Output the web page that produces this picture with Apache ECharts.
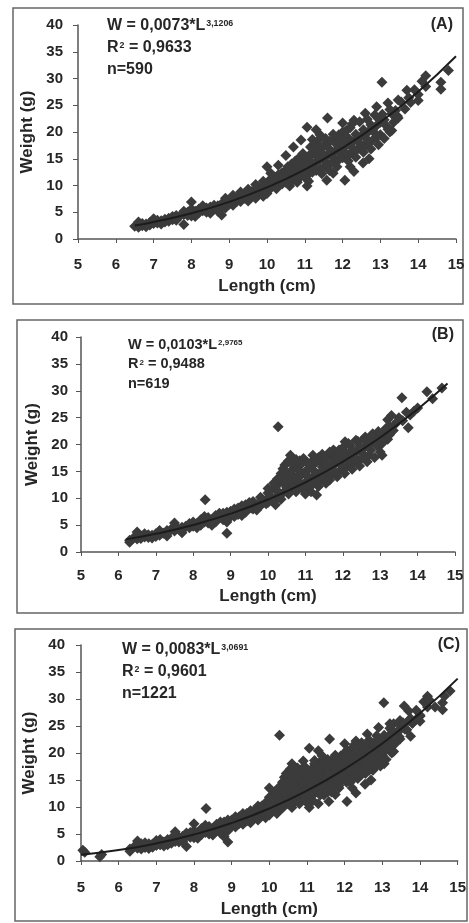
<!DOCTYPE html>
<html>
<head>
<meta charset="utf-8">
<script src="https://cdn.jsdelivr.net/npm/echarts@6/dist/echarts.min.js"></script>
<style>
html,body{margin:0;padding:0;background:#fff;}
#c{width:469px;height:923px;}
</style>
</head>
<body>
<div id="c"></div>
<script>
// ---- tick labels ----
const lengthTicks = [5, 6, 7, 8, 9, 10, 11, 12, 13, 14, 15];
const weightTicks = [0, 5, 10, 15, 20, 25, 30, 35, 40];

// ---- panel texts ----
const panelLabels = ['(A)', '(B)', '(C)'];
const coefA = ['0,0073', '0,0103', '0,0083'];
const coefB = ['3,1206', '2,9765', '3,0691'];
const r2Vals = ['0,9633', '0,9488', '0,9601'];
const nVals = ['590', '619', '1221'];

// ---- observed points (length cm, weight g) ----
const pointsA = [
[6.5,2.4],[6.6,2.7],[6.6,2.2],[6.7,2.9],[6.7,2.5],[6.8,2.8],[6.9,3.1],[6.9,2.6],[7.0,3.3],[7.0,2.9],
[7.1,3.5],[7.1,3.0],[7.2,3.4],[7.3,3.7],[7.3,3.2],[7.4,3.9],[7.5,4.2],[7.5,3.6],[7.6,4.0],[7.6,4.4],
[7.7,4.3],[7.8,4.6],[7.8,2.7],[7.9,4.4],[7.9,5.0],[8.0,6.9],[8.0,4.8],[8.0,4.3],[8.1,5.2],[8.2,4.9],
[8.2,5.6],[8.3,5.3],[8.4,5.8],[8.4,5.0],[8.5,6.0],[8.5,5.4],[8.6,6.3],[8.6,5.7],[8.7,6.2],[8.8,4.5],
[8.8,6.6],[8.8,5.9],[8.9,6.9],[8.9,6.3],[9.0,7.2],[9.0,6.5],[9.1,7.4],[9.1,6.8],[9.2,7.8],[9.2,7.0],
[9.3,8.0],[9.3,7.3],[9.4,8.3],[9.4,7.6],[9.5,8.6],[9.5,7.8],[9.6,8.9],[9.6,8.0],[9.7,9.2],[9.7,8.3],
[9.8,9.5],[9.8,8.6],[9.9,9.8],[9.9,8.8],[10.0,10.1],[10.0,9.2],[10.0,13.5],[10.0,8.5],[10.1,10.4],[10.1,9.5],
[10.2,10.8],[10.2,9.8],[10.2,11.6],[10.3,11.0],[10.3,10.0],[10.3,12.0],[10.4,11.4],[10.4,10.3],[10.4,12.4],[10.5,11.7],
[10.5,10.6],[10.5,12.8],[10.6,12.0],[10.6,10.9],[10.6,13.2],[10.7,12.3],[10.7,11.1],[10.7,13.5],[10.8,12.6],[10.8,11.4],
[10.8,14.0],[10.9,13.0],[10.9,11.7],[10.9,14.5],[11.0,13.4],[11.0,12.0],[11.0,15.0],[11.06,9.9],[11.06,20.9],[11.1,13.7],
[11.1,12.2],[11.1,15.5],[11.2,14.0],[11.2,12.5],[11.2,16.0],[11.3,14.4],[11.3,12.8],[11.3,16.5],[11.3,20.4],[11.4,14.8],
[11.4,13.1],[11.4,17.0],[11.5,15.2],[11.5,13.4],[11.5,17.5],[11.6,15.6],[11.58,11.0],[11.6,13.8],[11.6,18.0],[11.6,22.6],
[11.7,16.0],[11.7,14.2],[11.7,18.5],[11.75,12.3],[11.8,16.4],[11.8,14.5],[11.8,19.0],[11.9,16.8],[11.9,14.8],[11.9,19.5],
[12.0,17.2],[12.0,15.2],[12.06,11.0],[12.0,20.0],[12.0,21.7],[12.1,17.6],[12.1,15.6],[12.1,20.3],[12.2,18.0],[12.2,16.0],
[12.2,13.5],[12.2,20.8],[12.3,18.4],[12.3,16.4],[12.3,22.2],[12.4,18.8],[12.4,16.8],[12.5,19.3],[12.54,14.2],[12.5,17.2],
[12.6,19.7],[12.6,23.5],[12.6,17.6],[12.7,20.2],[12.7,18.0],[12.8,20.6],[12.8,18.5],[12.9,21.2],[12.9,24.7],[12.9,19.0],
[13.0,21.8],[13.04,29.3],[13.0,19.5],[13.1,22.3],[13.2,25.4],[13.2,20.5],[13.25,20.0],[13.3,23.4],[13.4,24.0],[13.47,22.6],
[13.47,26.0],[13.7,27.8],[13.8,25.5],[14.0,27.0],[14.1,29.5],[14.2,30.5],[14.2,28.5],[14.6,29.3],[14.6,28.0],[14.8,31.5],
[9.55,8.3],[9.65,8.6],[9.75,9.0],[9.85,9.1],[9.95,9.4],[10.05,9.8],[10.15,10.0],[10.25,10.5],[10.35,10.8],[10.45,11.1],
[10.55,11.3],[10.65,11.6],[10.75,12.0],[10.85,12.2],[10.95,12.5],[10.05,10.9],[10.15,11.2],[10.25,9.4],[10.35,11.7],[10.45,12.0],
[10.55,13.5],[10.65,14.0],[10.75,14.6],[10.85,15.2],[10.95,16.0],[10.6,9.9],[10.8,10.6],[11.05,11.2],[11.15,14.5],[11.25,13.3],
[11.35,15.2],[11.45,16.1],[11.55,14.4],[11.65,16.8],[11.75,15.3],[11.85,17.6],[11.95,15.9],[11.15,17.2],[11.25,17.8],[11.35,18.4],
[11.45,12.2],[11.55,18.8],[11.65,12.8],[11.75,19.6],[11.85,13.5],[11.95,18.2],[12.05,16.3],[12.15,18.9],[12.25,17.1],[12.35,19.6],
[12.45,17.9],[12.55,20.4],[12.65,18.6],[12.75,21.3],[12.85,19.8],[12.95,22.5],[12.05,18.6],[12.15,14.6],[12.25,21.5],[12.35,15.3],
[12.45,21.9],[12.55,16.2],[12.65,22.4],[12.75,16.8],[12.85,23.2],[12.95,17.6],[13.05,23.3],[13.15,21.2],[13.25,24.2],[13.35,21.8],
[13.45,23.0],[13.1,18.8],[13.3,20.3],[13.55,25.6],[13.65,24.3],[13.75,26.4],[13.9,27.9],[14.0,25.9],[11.0,14.1],[11.1,10.8],
[11.2,18.6],[11.4,19.5],[10.9,18.5],[10.7,17.2],[10.5,15.6],[10.3,13.8],[10.1,12.3],[9.9,10.8],[9.7,10.2],[9.5,9.3],
[9.3,7.0],[9.1,6.3],[8.9,5.8],[12.3,12.6],[12.7,15.0],
[6.6,3.2],[6.8,2.3],[7.0,3.8],[7.2,2.8],[7.4,3.3],[7.6,3.5],[7.8,5.2],[8.0,5.6],[8.1,4.2],[8.3,6.2],
[8.5,4.8],[8.7,5.2],[8.9,7.6],[9.1,8.2],[9.3,8.8],[9.5,7.1],[9.7,7.6],[9.9,8.0]
];
const pointsB = [
[6.3,2.2],[6.3,1.8],[6.4,2.6],[6.5,3.7],[6.5,2.4],[6.6,3.0],[6.6,2.5],[6.7,2.8],[6.8,3.2],[6.8,2.7],
[6.9,3.1],[7.0,3.4],[7.0,2.9],[7.1,3.6],[7.1,3.1],[7.2,3.5],[7.3,4.0],[7.3,3.4],[7.4,4.2],[7.5,5.4],
[7.5,3.9],[7.6,4.3],[7.7,4.6],[7.7,4.0],[7.8,4.8],[7.9,4.5],[8.0,5.6],[8.0,4.8],[8.1,5.3],[8.2,6.0],
[8.2,5.0],[8.32,9.7],[8.3,5.6],[8.4,6.4],[8.4,5.4],[8.5,6.0],[8.6,6.8],[8.6,5.6],[8.7,6.4],[8.8,7.2],
[8.8,6.0],[8.9,3.5],[8.9,6.8],[9.0,7.6],[9.0,6.6],[9.1,7.2],[9.2,8.2],[9.2,7.0],[9.3,7.8],[9.4,8.8],
[9.4,7.4],[9.5,8.4],[9.6,9.4],[9.6,8.0],[9.7,8.8],[9.8,10.2],[9.8,8.6],[9.9,9.4],[10.0,11.0],[10.0,9.2],
[10.0,10.0],[10.1,11.6],[10.1,9.6],[10.2,12.2],[10.2,10.2],[10.27,23.3],[10.3,12.8],[10.3,10.6],[10.4,13.5],[10.4,11.0],
[10.4,15.5],[10.5,12.0],[10.5,14.2],[10.5,16.5],[10.6,11.6],[10.6,13.0],[10.6,15.0],[10.7,12.4],[10.7,14.0],[10.7,16.0],
[10.8,11.8],[10.8,13.2],[10.8,15.4],[10.9,12.6],[10.9,14.4],[10.9,16.4],[11.0,13.0],[11.0,15.0],[11.0,12.0],[11.1,13.6],
[11.1,12.1],[11.1,15.6],[11.2,14.0],[11.2,12.6],[11.2,16.2],[11.3,10.6],[11.3,14.4],[11.3,13.0],[11.3,16.8],[11.4,14.8],
[11.4,13.4],[11.4,17.0],[11.5,15.2],[11.5,13.8],[11.5,17.4],[11.6,15.6],[11.6,14.0],[11.6,17.8],[11.7,16.0],[11.7,14.4],
[11.7,18.2],[11.8,16.4],[11.8,14.8],[11.8,18.6],[11.9,16.8],[11.9,15.0],[11.9,19.0],[12.0,17.2],[12.0,15.4],[12.0,19.4],
[12.1,17.6],[12.06,20.5],[12.1,15.8],[12.2,18.0],[12.2,16.2],[12.2,19.8],[12.3,18.4],[12.3,16.6],[12.4,18.8],[12.4,17.0],
[12.4,20.6],[12.5,19.2],[12.5,17.4],[12.6,19.6],[12.6,21.4],[12.7,20.0],[12.7,18.0],[12.8,20.4],[12.8,22.0],[12.9,20.8],
[13.0,21.4],[13.05,18.0],[13.1,22.0],[13.2,24.6],[13.2,21.0],[13.26,23.3],[13.4,23.8],[13.5,25.0],[13.58,28.7],[13.75,23.1],
[13.8,25.5],[13.9,26.2],[14.0,26.8],[14.25,29.8],[14.4,28.5],[14.65,30.5],
[9.55,8.2],[9.65,9.0],[9.75,8.4],[9.85,9.8],[9.95,9.0],[10.05,10.4],[10.15,9.4],[10.25,11.4],[10.35,9.8],[10.45,12.6],
[10.55,10.8],[10.65,13.8],[10.75,11.2],[10.85,14.6],[10.95,11.6],[10.15,12.8],[10.25,13.6],[10.35,14.6],[10.45,16.2],[10.55,17.0],
[10.65,16.6],[10.75,17.2],[10.85,17.0],[10.95,17.4],[11.05,14.2],[11.15,16.6],[11.25,15.0],[11.35,17.6],[11.45,15.8],[11.55,16.4],
[11.65,18.6],[11.75,17.0],[11.85,17.6],[11.95,18.0],[11.05,16.6],[11.15,11.2],[11.25,17.4],[11.35,12.2],[11.45,18.2],[11.55,12.8],
[11.65,13.4],[11.75,19.0],[11.85,14.0],[11.95,16.2],[12.05,18.6],[12.15,16.8],[12.25,19.0],[12.35,17.2],[12.45,19.6],[12.55,18.2],
[12.65,20.4],[12.75,19.0],[12.85,21.4],[12.95,19.6],[12.05,14.6],[12.15,20.2],[12.25,15.4],[12.35,20.8],[12.45,16.0],[12.55,21.0],
[12.65,16.8],[12.75,21.6],[12.85,17.6],[12.95,22.4],[13.05,20.2],[13.15,23.0],[13.25,21.8],[13.35,22.6],[13.45,24.2],[13.0,18.6],
[13.3,25.4],[13.6,24.4],[13.7,26.0],[9.3,8.6],[9.1,6.6],[8.9,7.4],[10.0,11.8],[10.2,8.8],[11.0,10.8],[11.2,18.0],
[10.6,18.0],
[6.7,3.4],[6.9,2.6],[7.1,4.0],[7.3,3.0],[7.5,4.6],[7.7,3.6],[7.9,5.3],[8.1,4.5],[8.3,6.6],[8.5,5.0],
[8.7,7.2],[8.9,5.6],[9.1,8.0],[9.3,6.8],[9.5,9.2],[9.7,7.8]
];
const pointsExtraC = [[5.05,2.0],[5.1,1.6],[5.5,0.8],[5.55,1.2]];

// ---- fitted curves (length cm, weight g) ----
const curveA = [[6.5,2.51],[7,3.17],[8,4.80],[9,6.94],[10,9.64],[11,12.97],[12,17.02],[13,21.85],[14,27.54],[15,34.16]];
const curveB = [[6.2,2.35],[7,3.38],[8,5.02],[9,7.13],[10,9.76],[11,12.96],[12,16.79],[13,21.30],[14,26.57],[14.8,31.34]];
const curveC = [[5,1.16],[6,2.03],[7,3.26],[8,4.91],[9,7.04],[10,9.73],[11,13.04],[12,17.03],[13,21.77],[14,27.34],[15,33.78]];

const pointsC = pointsA.concat(pointsB, pointsExtraC);

const FONT = 'Liberation Sans, Arial, sans-serif';
const TXT = '#262626';
const AX = '#555';

const grids = [
  {left: 78, top: 25, width: 378, height: 214},
  {left: 81, top: 337, width: 374, height: 215},
  {left: 81, top: 645, width: 380, height: 216}
];
const xLabelMargin = [18, 16, 19];
const yLabelMargin = [15, 13, 16];
const xNameGap = [39, 36, 40];
const yNameGap = [40, 39, 42];

const xAxes = grids.map((g, i) => ({
  gridIndex: i, type: 'value',
  min: lengthTicks[0], max: lengthTicks[lengthTicks.length - 1], interval: lengthTicks[1] - lengthTicks[0],
  name: 'Length (cm)', nameLocation: 'middle', nameGap: xNameGap[i],
  nameTextStyle: {fontFamily: FONT, fontSize: 17, fontWeight: 'bold', color: TXT},
  axisLine: {show: true, onZero: false, lineStyle: {color: AX, width: 1.5}},
  axisTick: {show: true, inside: false, length: 4, lineStyle: {color: AX, width: 1}},
  axisLabel: {fontFamily: FONT, fontSize: 15, fontWeight: 'bold', color: TXT, margin: xLabelMargin[i], showMinLabel: true, showMaxLabel: true},
  splitLine: {show: false}
}));
const yAxes = grids.map((g, i) => ({
  gridIndex: i, type: 'value',
  min: weightTicks[0], max: weightTicks[weightTicks.length - 1], interval: weightTicks[1] - weightTicks[0],
  name: 'Weight (g)', nameLocation: 'middle', nameGap: yNameGap[i],
  nameTextStyle: {fontFamily: FONT, fontSize: 17, fontWeight: 'bold', color: TXT},
  axisLine: {show: true, onZero: false, lineStyle: {color: AX, width: 1.5}},
  axisTick: {show: true, inside: false, length: 5, lineStyle: {color: AX, width: 1}},
  axisLabel: {fontFamily: FONT, fontSize: 15, fontWeight: 'bold', color: TXT, margin: yLabelMargin[i], showMinLabel: true, showMaxLabel: true},
  splitLine: {show: false}
}));

const pointSets = [pointsA, pointsB, pointsC];
const curves = [curveA, curveB, curveC];
const series = [];
pointSets.forEach((p, i) => {
  series.push({
    type: 'scatter', xAxisIndex: i, yAxisIndex: i, data: p,
    symbol: 'diamond', symbolSize: 11, z: 2, silent: true,
    itemStyle: {color: '#3b3b3b', opacity: 1}
  });
});
curves.forEach((c, i) => {
  series.push({
    type: 'line', xAxisIndex: i, yAxisIndex: i, data: c, smooth: true,
    showSymbol: false, symbol: 'none', z: 5, silent: true,
    lineStyle: {color: '#1c1c1c', width: 2}
  });
});

// equation blocks
const eqPos = [
  {left: 107, top: 15, fs: 16, lh: 22},
  {left: 128, top: 335, fs: 14.5, lh: 19.5},
  {left: 122, top: 639, fs: 16, lh: 22}
];
const tagPos = [
  {right: 16, top: 16, fs: 16},
  {right: 15, top: 326, fs: 16},
  {right: 9, top: 636, fs: 16}
];
const titles = [];
eqPos.forEach((p, i) => {
  titles.push({
    left: p.left, top: p.top, padding: 0,
    text: '{w|W = ' + coefA[i] + '*L}{s|' + coefB[i] + '}\n{w|R}{s|2}{w| = ' + r2Vals[i] + '}\n{w|n=' + nVals[i] + '}',
    textStyle: {
      rich: {
        w: {fontFamily: FONT, fontSize: p.fs, fontWeight: 'bold', color: TXT, lineHeight: p.lh},
        s: {fontFamily: FONT, fontSize: p.fs * 0.55, fontWeight: 'bold', color: TXT, lineHeight: p.lh, verticalAlign: 'top', padding: [4, 0, 0, 1]}
      }
    }
  });
});
tagPos.forEach((p, i) => {
  titles.push({
    right: p.right, top: p.top, padding: 0, text: panelLabels[i],
    textStyle: {fontFamily: FONT, fontSize: p.fs, fontWeight: 'bold', color: TXT, lineHeight: 18}
  });
});

const boxes = [
  {x: 13, y: 8, width: 450, height: 296},
  {x: 17, y: 320, width: 446, height: 293},
  {x: 15, y: 629, width: 452, height: 292}
];

const chart = echarts.init(document.getElementById('c'), null, {renderer: 'canvas', width: 469, height: 923});
chart.setOption({
  backgroundColor: '#ffffff',
  animation: false,
  title: titles,
  grid: grids,
  xAxis: xAxes,
  yAxis: yAxes,
  series: series,
  graphic: boxes.map(b => ({
    type: 'rect', shape: b, silent: true, z: -1,
    style: {fill: 'none', stroke: '#666', lineWidth: 1.5}
  }))
});
</script>
</body>
</html>
